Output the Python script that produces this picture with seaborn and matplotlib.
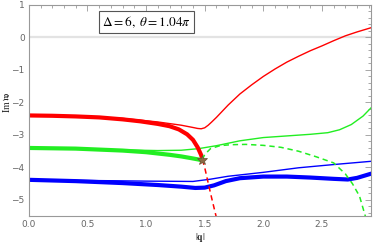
import matplotlib
matplotlib.use("Agg")
import matplotlib.pyplot as plt
import seaborn as sns
from matplotlib.ticker import MultipleLocator

sns.set_style("white")
plt.rcParams['font.family'] = ['DejaVu Sans']
plt.rcParams['mathtext.fontset'] = 'stix'
plt.rcParams['lines.solid_joinstyle'] = 'round'
plt.rcParams['lines.solid_capstyle'] = 'round'

# branches of Im w vs |q|
red_thick_q = [0, 0.2, 0.4, 0.6, 0.8, 0.95, 1.1, 1.2, 1.28, 1.35, 1.4, 1.44, 1.47, 1.48]
red_thick_w = [-2.40, -2.41, -2.43, -2.46, -2.52, -2.58, -2.66, -2.73, -2.83, -2.98, -3.15, -3.38, -3.62, -3.76]

red_thin_q = [0, 0.4, 0.8, 1.1, 1.3, 1.4, 1.44, 1.47, 1.5, 1.53, 1.56, 1.6, 1.65, 1.7, 1.8,
              1.9, 2.0, 2.1, 2.2, 2.3, 2.4, 2.5, 2.6, 2.7, 2.8, 2.92]
red_thin_w = [-2.40, -2.42, -2.49, -2.60, -2.70, -2.77, -2.80, -2.81, -2.78, -2.70, -2.60, -2.46,
              -2.27, -2.08, -1.74, -1.46, -1.20, -0.97, -0.76, -0.58, -0.41, -0.26, -0.10, 0.05, 0.17, 0.30]

red_dash_q = [1.48, 1.50, 1.523, 1.56, 1.597, 1.61]
red_dash_w = [-3.76, -4.00, -4.37, -4.95, -5.50, -5.70]

green_thick_q = [0, 0.4, 0.8, 1.0, 1.2, 1.3, 1.38, 1.44, 1.48]
green_thick_w = [-3.40, -3.42, -3.48, -3.53, -3.61, -3.66, -3.71, -3.75, -3.78]

green_thin_q = [0, 0.4, 0.8, 1.1, 1.3, 1.45, 1.6, 1.8, 2.0, 2.2, 2.4, 2.55, 2.65, 2.75, 2.85, 2.92]
green_thin_w = [-3.40, -3.42, -3.46, -3.48, -3.47, -3.42, -3.33, -3.18, -3.08, -3.03, -2.98, -2.93, -2.84, -2.68, -2.42, -2.16]

green_dash_q = [1.48, 1.50, 1.55, 1.63, 1.72, 1.85, 2.0, 2.15, 2.3, 2.45, 2.6, 2.7, 2.76, 2.82, 2.87, 2.88]
green_dash_w = [-3.76, -3.60, -3.42, -3.33, -3.30, -3.29, -3.32, -3.38, -3.50, -3.67, -3.86, -4.20, -4.50, -4.88, -5.50, -5.70]

blue_thick_q = [0, 0.4, 0.8, 1.1, 1.3, 1.42, 1.5, 1.58, 1.68, 1.8, 2.0, 2.2, 2.4, 2.6, 2.72, 2.8, 2.92]
blue_thick_w = [-4.38, -4.42, -4.48, -4.54, -4.59, -4.63, -4.62, -4.55, -4.42, -4.33, -4.28, -4.28, -4.31, -4.35, -4.37, -4.32, -4.19]

blue_thin_q = [0, 0.5, 1.0, 1.4, 1.55, 1.7, 2.0, 2.3, 2.6, 2.92]
blue_thin_w = [-4.38, -4.40, -4.42, -4.43, -4.36, -4.27, -4.15, -4.01, -3.91, -3.81]

star_q = [1.48]
star_w = [-3.76]

RED, GREEN, BLUE = '#ff0000', '#22ee22', '#0000ff'
FRAME = '#999999'

fig = plt.figure(figsize=(3.74, 2.46), dpi=100)
ax = fig.add_axes([0.077, 0.121, 0.914, 0.859])

ax.axhline(0, color='#e3e3e3', lw=1.6, zorder=0)

thin, thick = 1.0, 3.0
sns.lineplot(x=red_thin_q, y=red_thin_w, sort=False, estimator=None, color=RED, lw=thin, ax=ax)
sns.lineplot(x=green_thin_q, y=green_thin_w, sort=False, estimator=None, color=GREEN, lw=thin, ax=ax)
sns.lineplot(x=blue_thin_q, y=blue_thin_w, sort=False, estimator=None, color=BLUE, lw=thin, ax=ax)
sns.lineplot(x=red_thick_q, y=red_thick_w, sort=False, estimator=None, color=RED, lw=thick, ax=ax)
sns.lineplot(x=green_thick_q, y=green_thick_w, sort=False, estimator=None, color=GREEN, lw=thick, ax=ax)
sns.lineplot(x=blue_thick_q, y=blue_thick_w, sort=False, estimator=None, color=BLUE, lw=thick, ax=ax)
sns.lineplot(x=red_dash_q, y=red_dash_w, sort=False, estimator=None, color=RED, lw=1.1,
             ax=ax).lines[-1].set_dashes([3.5, 2.5])
sns.lineplot(x=green_dash_q, y=green_dash_w, sort=False, estimator=None, color=GREEN, lw=1.1,
             ax=ax).lines[-1].set_dashes([3.5, 2.5])
ax.plot(star_q, star_w, marker='*', ms=7, color='#8b6b45', mec='#6b4f30', mew=0.5, ls='none', zorder=5)

ax.set_xlim(0, 2.915)
ax.set_ylim(-5.5, 1)
ax.xaxis.set_major_locator(MultipleLocator(0.5))
ax.xaxis.set_minor_locator(MultipleLocator(0.1))
ax.yaxis.set_major_locator(MultipleLocator(1))
ax.yaxis.set_minor_locator(MultipleLocator(0.2))
ax.xaxis.set_major_formatter(matplotlib.ticker.FormatStrFormatter('%.1f'))
ax.yaxis.set_major_formatter(matplotlib.ticker.FuncFormatter(lambda v, p: f'{int(v)}'.replace('-', '\u2212')))

for s in ax.spines.values():
    s.set_color(FRAME)
    s.set_linewidth(0.8)
ax.tick_params(which='both', direction='in', top=True, right=True, colors=FRAME,
               labelcolor='#666666', labelsize=6.5, width=0.6)
ax.tick_params(which='major', length=4, pad=3)
ax.tick_params(which='minor', length=2)

fig.text(0.017, 0.585, r'$\mathrm{Im}\,\mathfrak{w}$', rotation=90, ha='center', va='center',
         fontsize=7, color='#222222')
fig.text(0.535, 0.035, r'$|\mathbf{q}|$', ha='center', va='center', fontsize=7, color='#222222')

ax.text(0.344, 0.918, r'$\Delta = 6,\ \theta = 1.04\pi$', transform=ax.transAxes,
        ha='center', va='center', fontsize=9.5, color='black',
        bbox=dict(boxstyle='square,pad=0.25', fc='white', ec='#555555', lw=0.8))

fig.savefig('out.png', dpi=100)
